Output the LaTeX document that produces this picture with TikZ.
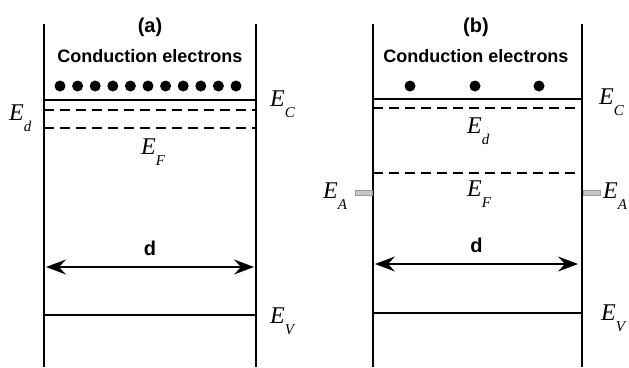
\documentclass[tikz,border=0pt]{standalone}
\usepackage{fontspec}
\setmainfont{Liberation Serif}
\setsansfont{Liberation Sans}
\usetikzlibrary{arrows.meta, positioning}

\newcommand{\lev}[1]{\textit{E}\raisebox{-11pt}{\fontsize{15}{15}\selectfont\textit{#1}}}

\begin{document}
\begin{tikzpicture}[x=1pt, y=-1pt,
  wall/.style={line width=1.3pt},
  band/.style={line width=1.5pt},
  lvldash/.style={line width=1.5pt, dash pattern=on 10pt off 6pt},
  lbl/.style={inner sep=0pt, anchor=base west, font=\fontsize{24}{24}\selectfont},
  head/.style={font=\sffamily\bfseries\fontsize{18}{18}\selectfont},
  tag/.style={font=\sffamily\bfseries\fontsize{20}{20}\selectfont},
  span/.style={line width=1.2pt, {Stealth[length=20pt,width=15pt,inset=7pt]}-{Stealth[length=20pt,width=15pt,inset=7pt]}},
  acceptor/.style={draw=gray!80, fill=gray!45, line width=0.5pt}]
  \useasboundingbox (0,0) rectangle (629,367);
  % Panel (a)
  \begin{scope}
    \draw[wall] (44,24) -- (44,367);
    \draw[wall] (256,24) -- (256,367);
    \node[tag] (ta) at (150,27) {(a)};
    \node[head] (cea) at (150,56) {Conduction electrons};
    \foreach \i in {0,...,10} \fill (60+17.6*\i,86) circle (5.5);
    \draw[band] (44,100) -- (256,100);
    \draw[lvldash] (44,110) -- (256,110);
    \draw[lvldash] (44,128) -- (256,128);
    \draw[band] (44,315) -- (256,315);
    \node[lbl] (eca) at (270,106) {\lev{C}};
    \node[lbl] (eda) at (9,120) {\lev{d}};
    \node[lbl] (efa) at (141,154) {\lev{F}};
    \node[lbl] (eva) at (270,323) {\lev{V}};
    \coordinate (dal) at (46,267);
    \coordinate (dar) at (254,267);
    \draw[span] (dal) -- (dar) node[tag, midway, above=7pt] (da) {d};
  \end{scope}
  % Panel (b)
  \begin{scope}
    \draw[wall] (373,24) -- (373,367);
    \draw[wall] (582,24) -- (582,367);
    \node[tag] (tb) at (476,27) {(b)};
    \node[head] (ceb) at (476,56) {Conduction electrons};
    \foreach \x in {410,475,539} \fill (\x,86) circle (5.5);
    \draw[band] (373,99) -- (582,99);
    \draw[lvldash] (373,108) -- (582,108);
    \draw[lvldash] (373,173) -- (582,173);
    \draw[band] (373,313) -- (582,313);
    \draw[acceptor] (355,190) rectangle (372,195);
    \draw[acceptor] (583,190) rectangle (600,195);
    \node[lbl] (ecb) at (599,104) {\lev{C}};
    \node[lbl] (edb) at (467,133) {\lev{d}};
    \node[lbl] (efb) at (467,196) {\lev{F}};
    \node[lbl] (eal) at (323,198) {\lev{A}};
    \node[lbl] (ear) at (603,198) {\lev{A}};
    \node[lbl] (evb) at (601,320) {\lev{V}};
    \coordinate (dbl) at (375,264);
    \coordinate (dbr) at (578,264);
    \draw[span] (dbl) -- (dbr) node[tag, midway, above=7pt] (db) {d};
  \end{scope}
\end{tikzpicture}
\end{document}
